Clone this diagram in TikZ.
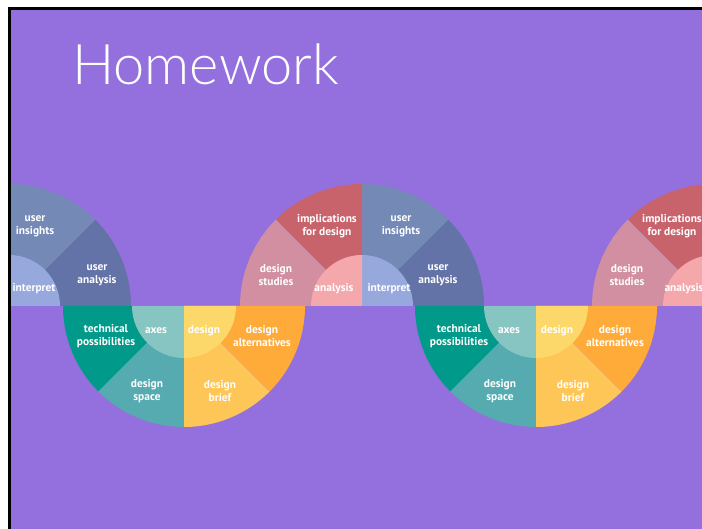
\documentclass[tikz,border=0pt]{standalone}
\usepackage{fontspec}
\setmainfont{PT Sans}
\newfontfamily\titlefont{Lato Light}
\usetikzlibrary{positioning}
\definecolor{slide}{HTML}{9470DE}
\definecolor{uinsights}{HTML}{7489B5}
\definecolor{uanalysis}{HTML}{6373A8}
\definecolor{interp}{HTML}{96A8DC}
\definecolor{implic}{HTML}{C8636C}
\definecolor{dstudies}{HTML}{D18FA1}
\definecolor{anal}{HTML}{F4A8AB}
\definecolor{techposs}{HTML}{00998A}
\definecolor{dspace}{HTML}{55ABAF}
\definecolor{axescol}{HTML}{87C5C3}
\definecolor{dsgn}{HTML}{FCD86A}
\definecolor{dbrief}{HTML}{FEC656}
\definecolor{dalt}{HTML}{FEAB3A}

\begin{document}
\begin{tikzpicture}[x=1pt, y=1pt,
  lbl/.style={text=white, font=\bfseries\fontsize{11.4}{13.4}\selectfont,
              align=center, inner sep=0pt},
]
  \useasboundingbox (0,0) rectangle (702,529);
  % page, slide and frame
  \fill[white] (0,0) rectangle (702,529);
  \fill[slide] (11,0) rectangle (702,519);
  \draw[line width=3pt] (9.5,0) -- (9.5,520.5) -- (702,520.5);

  \node[text=white, font=\titlefont\fontsize{56}{60}\selectfont,
        anchor=base west, inner sep=0pt] (title) at (72,444) {Homework};

  \begin{scope}
    \clip (11,0) rectangle (702,519);
    % upper half rings
    \foreach \cx in {9, 362, 714} {
      \foreach \a/\col in {0/uanalysis, 45/uinsights, 90/implic, 135/dstudies}
        \fill[\col] (\cx,223) -- ++(\a:122) arc[start angle=\a, delta angle=45, radius=122] -- cycle;
      \fill[interp] (\cx,223) -- ++(0:51) arc[start angle=0, delta angle=90, radius=51] -- cycle;
      \fill[anal] (\cx,223) -- ++(90:51) arc[start angle=90, delta angle=90, radius=51] -- cycle;
    }
    % lower half rings
    \foreach \cx in {184, 536} {
      \foreach \a/\col in {180/techposs, 225/dspace, 270/dbrief, 315/dalt}
        \fill[\col] (\cx,223) -- ++(\a:121) arc[start angle=\a, delta angle=45, radius=121] -- cycle;
      \fill[axescol] (\cx,223) -- ++(180:52) arc[start angle=180, delta angle=90, radius=52] -- cycle;
      \fill[dsgn] (\cx,223) -- ++(270:52) arc[start angle=270, delta angle=90, radius=52] -- cycle;
    }

    % labels, left upper
    \node[lbl] (insA) at (35,303) {user\\insights};
    \node[lbl] (anaA) at (97,254) {user\\analysis};
    \node[lbl] (intA) at (34,240) {interpret};
    % labels, middle upper
    \node[lbl] (impB) at (327,303) {implications\\for design};
    \node[lbl] (insB) at (401,303) {user\\insights};
    \node[lbl] (stuB) at (276,254) {design\\studies};
    \node[lbl] (anaB) at (438,254) {user\\analysis};
    \node[lbl] (anlB) at (334,240) {analysis};
    \node[lbl] (intB) at (389,240) {interpret};
    % labels, right upper
    \node[lbl] (impC) at (672,303) {implications\\for design};
    \node[lbl] (stuC) at (627,254) {design\\studies};
    \node[lbl] (anlC) at (684,240) {analysis};
    % labels, lower rings
    \foreach \dx/\s in {0/A, 353/B} {
      \node[lbl] (tec\s) at (106+\dx,193) {technical\\possibilities};
      \node[lbl] (axe\s) at (156+\dx,198) {axes};
      \node[lbl] (dsg\s) at (204+\dx,198) {design};
      \node[lbl] (alt\s) at (262+\dx,193) {design\\alternatives};
      \node[lbl] (spa\s) at (147+\dx,138) {design\\space};
      \node[lbl] (bri\s) at (220+\dx,138) {design\\brief};
    }
  \end{scope}
\end{tikzpicture}
\end{document}
